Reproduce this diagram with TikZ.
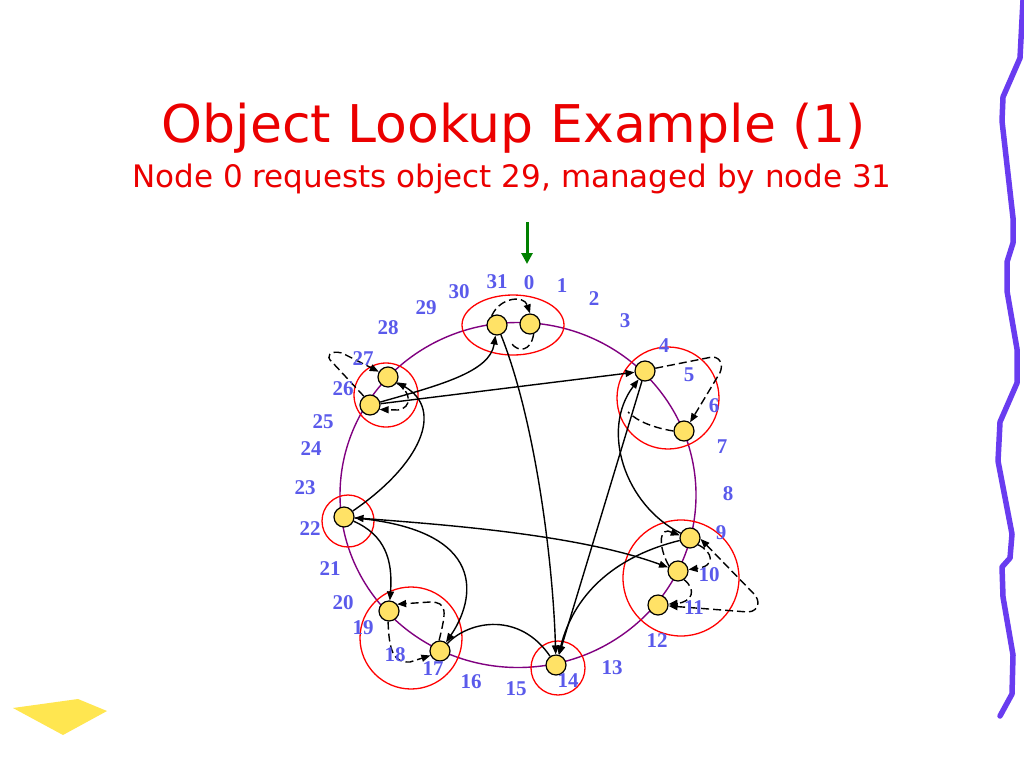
\documentclass[tikz,border=0pt]{standalone}
\usepackage{fontspec}
\setmainfont{Liberation Serif}
\newfontfamily\titlefont{DejaVu Sans}
\usetikzlibrary{arrows.meta}
\definecolor{ringpurple}{RGB}{128,0,128}
\definecolor{lblblue}{RGB}{90,90,235}
\definecolor{nodeyellow}{RGB}{255,226,102}
\definecolor{ribboncol}{RGB}{105,60,240}
\definecolor{padyellow}{RGB}{255,230,80}
\definecolor{titlered}{RGB}{235,0,0}
\definecolor{arrowgreen}{RGB}{0,128,0}
\begin{document}
\begin{tikzpicture}[x=1pt,y=-1pt,
  peer/.style={circle,draw=black,fill=nodeyellow,line width=1.2pt,minimum size=20pt,inner sep=0pt},
  lbl/.style={text=lblblue,font=\fontsize{21}{21}\selectfont\bfseries,inner sep=0pt},
  grp/.style={draw=red,line width=1.3pt},
  arr/.style={draw=black,line width=1.4pt,-{Triangle[length=9pt,width=7pt]}},
  dblarr/.style={draw=black,line width=1.4pt,{Triangle[length=9pt,width=7pt]}-{Triangle[length=9pt,width=7pt]}},
  bare/.style={draw=black,line width=1.4pt},
  dashpat/.style={dash pattern=on 8pt off 4pt},
  darr/.style={arr,dashpat},
  dbarr/.style={dblarr,dashpat},
  dbare/.style={bare,dashpat},
  titletext/.style={text=titlered,anchor=base,inner sep=0pt}
]
\useasboundingbox (0,0) rectangle (1024,768);
\fill[white] (0,0) rectangle (1024,768);

% title
\node[titletext,font=\titlefont\fontsize{52}{60}\selectfont] (title) at (514,142) {Object Lookup Example (1)};
\node[titletext,font=\titlefont\fontsize{31}{36}\selectfont] (subtitle) at (512,187) {Node 0 requests object 29, managed by node 31};

% decorations
\draw[ribboncol,line width=5.5pt,line join=round,line cap=round]
  (1023,0) -- (1020,58) -- (1003,97) -- (1002,121) -- (1013,218) -- (1013,243) -- (1007,262) -- (1007,291)
  -- (1017,349) -- (1017,383) -- (1000,422) -- (998,461) -- (1012,534) -- (1010,558) -- (1002,567)
  -- (1003,597) -- (1013,655) -- (1012,694) -- (1000,716);
\fill[padyellow] (13,708) -- (78,699) -- (107,711) -- (63,735) -- cycle;

% ring and groups
\draw[ringpurple,line width=1.4pt] (518,495) ellipse [x radius=178pt, y radius=172.5pt];
\draw[grp] (513,325) ellipse [x radius=51pt, y radius=30pt];
\draw[grp] (386,395) circle [radius=32pt];
\draw[grp] (668,398) circle [radius=51pt];
\draw[grp] (348,521) circle [radius=26pt];
\draw[grp] (411,638) circle [radius=51pt];
\draw[grp] (681,578) circle [radius=58pt];
\draw[grp] (558,668) circle [radius=27pt];

% nodes
\node[peer] (n31) at (497,325) {};
\node[peer] (n0)  at (530,324) {};
\node[peer] (n27) at (388,377) {};
\node[peer] (n26) at (370,405) {};
\node[peer] (n4)  at (645,371) {};
\node[peer] (n6)  at (684,431) {};
\node[peer] (n22) at (344,517) {};
\node[peer] (n9)  at (690,538) {};
\node[peer] (n10) at (678,571) {};
\node[peer] (n11) at (658,605) {};
\node[peer] (n19) at (389,611) {};
\node[peer] (n17) at (440,651) {};
\node[peer] (n14) at (556,665) {};

% green pointer
\coordinate (gs) at (527,222);
\coordinate (ge) at (527,264);
\draw[arrowgreen,line width=3pt,-{Triangle[length=11pt,width=11pt]}] (gs) -- (ge);

% solid connectors
\draw[arr] (n26) .. controls (440,385) and (490,372) .. (n31);
\draw[arr] (n26) -- (n4);
\draw[arr] (n31) .. controls (535,420) and (553,560) .. (n14);
\draw[arr] (n22) .. controls (420,465) and (445,410) .. (n27);
\draw[arr] (n4) -- (n14);
\draw[arr] (n9) .. controls (625,505) and (600,430) .. (n4);
\draw[dblarr] (n22) .. controls (450,525) and (580,535) .. (n10);
\draw[arr] (n22) .. controls (385,535) and (393,560) .. (n19);
\draw[arr] (n22) .. controls (490,530) and (475,600) .. (n17);
\draw[bare] (n17) .. controls (470,620) and (520,612) .. (n14);
\draw[arr] (n9) .. controls (620,555) and (575,590) .. (n14);

% dashed connectors
\draw[darr] (n31.120) .. controls (500,297) and (524,295) .. (n0.north);
\coordinate (e0) at (512,344);
\draw[dbare] (n0.-70) .. controls (531,352) and (518,352) .. (e0);
\draw[darr] (n4.15) -- (712,357) .. controls (722,357) and (724,368) .. (718,376) -- (n6.55);
\coordinate (e6) at (628,412);
\draw[dbare] (n6.west) .. controls (655,428) and (638,422) .. (e6);
\draw[darr] (n26.125) -- (332,362) .. controls (325,356) and (330,350) .. (342,353) -- (n27.150);
\draw[darr] (n27.-35) .. controls (412,392) and (412,408) .. (398,410) -- (n26.-25);
\draw[darr] (n17.95) .. controls (446,612) and (448,602) .. (430,602) -- (n19.40);
\draw[darr] (n19.-95) .. controls (389,650) and (393,663) .. (410,662) -- (n17.205);
\draw[darr] (n10.150) .. controls (661,552) and (657,531) .. (668,531) -- (n9.165);
\draw[darr] (n9.-40) .. controls (713,552) and (716,566) .. (n10.8);
\draw[darr] (n10.-55) .. controls (697,590) and (692,602) .. (n11.5);
\draw[dbarr] (n11.-5) -- (748,612) .. controls (760,611) and (760,600) .. (754,594) -- (n9.-5);

% ring labels
\foreach \t/\x/\y in {0/529/283, 1/562/286, 2/594/299, 3/625/321, 4/664/346, 5/689/375, 6/714/406, 7/722/447,
  8/728/494, 9/721/533, 10/709/575, 11/694/608, 12/657/641, 13/612/668, 14/568/681, 15/516/689,
  16/471/682, 17/433/669, 18/395/655, 19/363/628, 20/343/603, 21/330/569, 22/310/529, 23/305/488,
  24/311/449, 25/323/422, 26/343/389, 27/363/359, 28/388/328, 29/426/308, 30/459/292, 31/497/282}
  \node[lbl] (l\t) at (\x,\y) {\t};
\end{tikzpicture}
\end{document}
